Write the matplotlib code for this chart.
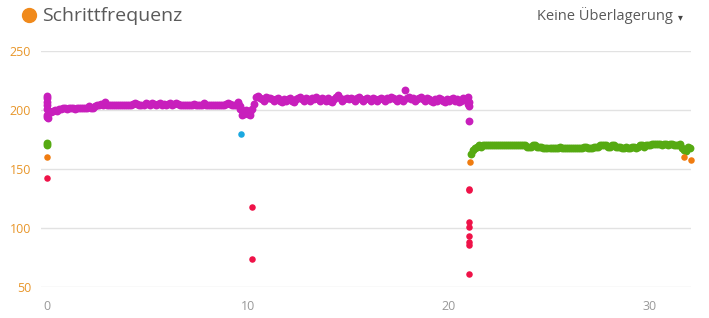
import numpy as np
import matplotlib
matplotlib.use('Agg')
import matplotlib.pyplot as plt
from matplotlib.lines import Line2D

plt.rcParams['font.family'] = ['Open Sans', 'DejaVu Sans']

# cadence samples, 0.1 min apart
mag_start, mag_step = 0.0, 0.1
mag_y = [
    201, 199, 198, 199, 200, 199, 201, 201, 202, 202,
    201, 202, 202, 202, 201, 202, 202, 202, 202, 202,
    202, 203, 202, 202, 203, 204, 204, 205, 204, 207,
    204, 204, 204, 204, 204, 204, 204, 204, 204, 204,
    204, 204, 204, 205, 206, 205, 204, 204, 204, 206,
    205, 204, 206, 205, 204, 205, 206, 204, 205, 204,
    205, 206, 204, 205, 206, 205, 204, 204, 204, 204,
    204, 204, 204, 205, 204, 204, 204, 204, 206, 204,
    204, 204, 204, 204, 204, 204, 204, 204, 204, 205,
    206, 205, 204, 204, 204, 206, 203, 200, 198, 199,
    197, 198, 201, 205, 211, 212, 210, 209, 208, 211,
    210, 210, 209, 208, 209, 210, 208, 207, 209, 208,
    209, 210, 208, 207, 209, 210, 211, 209, 208, 210,
    209, 208, 210, 209, 211, 209, 208, 210, 209, 208,
    210, 208, 207, 209, 211, 213, 210, 208, 209, 210,
    209, 210, 209, 208, 210, 211, 209, 208, 209, 210,
    209, 208, 210, 209, 208, 209, 210, 209, 208, 210,
    209, 211, 210, 209, 208, 210, 209, 208, 217, 210,
    211, 209, 210, 208, 209, 210, 211, 209, 208, 210,
    209, 208, 207, 209, 208, 210, 209, 208, 207, 209,
    208, 209, 210, 208, 209, 207, 208, 210, 209, 208,
    207,
]
# extra magenta points (stacked samples)
mag_extra_x = [0, 0, 0, 0, 0, 0, 0.05, 9.5, 9.6, 9.7, 9.8, 9.9, 10.0, 10.1, 20.95, 20.95, 21.0, 21.0]
mag_extra_y = [212, 210, 207, 204, 196, 194, 193, 207, 201, 196, 197, 200, 199, 196, 211, 205, 203, 191]

grn_start, grn_step = 21.1, 0.1
grn_y = [
    163, 166, 168, 169, 170, 169, 170, 170, 170,
    170, 170, 170, 170, 170, 170, 170, 170, 170, 170,
    170, 170, 170, 170, 170, 170, 170, 170, 170, 169,
    169, 169, 170, 170, 169, 169, 169, 168, 168, 168,
    168, 168, 168, 168, 168, 169, 168, 168, 168, 168,
    168, 168, 168, 168, 168, 168, 168, 169, 169, 168,
    168, 168, 169, 169, 169, 170, 170, 170, 170, 169,
    169, 170, 170, 169, 169, 169, 168, 168, 169, 168,
    168, 169, 169, 168, 169, 170, 170, 169, 170, 170,
    170, 171, 171, 171, 171, 171, 170, 171, 171, 170,
    171, 171, 170, 170, 170, 171, 168, 166, 165, 169,
    168,
]
grn_extra_x = [0, 0]
grn_extra_y = [172, 170]

red_x = [0, 10.2, 10.2, 21, 21, 21, 21, 21, 21, 21, 21]
red_y = [142, 118, 74, 133, 132, 105, 101, 93, 88, 86, 61]
orange_x = [0, 21.05, 31.7, 32.05]
orange_y = [160, 156, 160, 158]
blue_x = [9.67]
blue_y = [180]

yticks = [50, 100, 150, 200, 250]
xticks = [0, 10, 20, 30]

MAGENTA = '#c81fbc'
GREEN = '#56aa12'
RED = '#ef1248'
ORANGE = '#f07c10'
BLUE = '#1ba8e0'

W, H = 709, 318
fig = plt.figure(figsize=(W / 100, H / 100), dpi=100)
ax = fig.add_axes([41 / W, 1 - 287 / H, (691 - 41) / W, (287 - 51) / H])

mag_x = mag_start + mag_step * np.arange(len(mag_y))
grn_x = grn_start + grn_step * np.arange(len(grn_y))

ms = 32   # dense series
ps = 22   # single points
ax.scatter(mag_x, mag_y, s=ms, color=MAGENTA, lw=0, zorder=3)
ax.scatter(mag_extra_x, mag_extra_y, s=ms, color=MAGENTA, lw=0, zorder=3)
ax.scatter(grn_x, grn_y, s=ms, color=GREEN, lw=0, zorder=3, clip_on=False)
ax.scatter(grn_extra_x, grn_extra_y, s=ms, color=GREEN, lw=0, zorder=3, clip_on=False)
ax.scatter(red_x, red_y, s=ps, color=RED, lw=0, zorder=3, clip_on=False)
ax.scatter(orange_x, orange_y, s=ps, color=ORANGE, lw=0, zorder=3, clip_on=False)
ax.scatter(blue_x, blue_y, s=ps, color=BLUE, lw=0, zorder=3)

ax.set_xlim(-0.3, 32.04)
ax.set_ylim(50, 250)
ax.set_yticks(yticks)
ax.set_xticks(xticks)
for s in ax.spines.values():
    s.set_visible(False)
ax.grid(axis='y', color='#e2e2e2', lw=1)
ax.set_axisbelow(True)
ax.tick_params(axis='y', length=0, pad=7, labelsize=9, labelcolor='#e8962a')
ax.tick_params(axis='x', length=0, pad=9, labelsize=9, labelcolor='#999999')

# header
fig.add_artist(Line2D([29 / W], [1 - 15 / H], marker='o', markersize=10,
                      color='#f08a1c', transform=fig.transFigure))
fig.text(42 / W, 1 - 16 / H, 'Schrittfrequenz', fontsize=14, color='#5a5a5a',
         ha='left', va='center')
fig.text(673 / W, 1 - 16 / H, 'Keine Überlagerung', fontsize=10.5, color='#5a5a5a',
         ha='right', va='center')
fig.text(678 / W, 1 - 17 / H, '▾', fontsize=7, color='#444444',
         ha='left', va='center', family=['DejaVu Sans'])

fig.savefig('out.png', dpi=100)
